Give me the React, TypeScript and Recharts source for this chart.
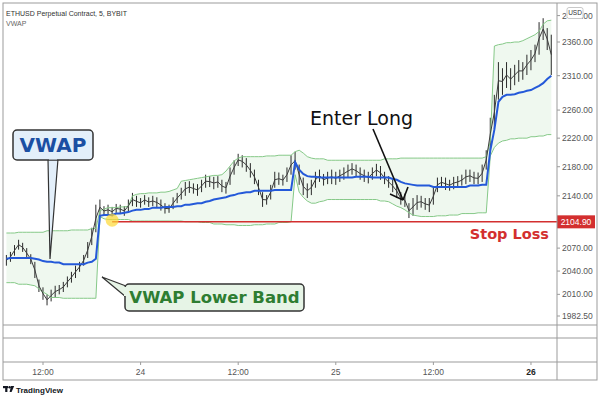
import React from "react";
import {
    ComposedChart,
    Bar,
    Line,
    Area,
    XAxis,
    YAxis,
    ReferenceLine,
    ReferenceDot,
} from "recharts";

// 30 minute buckets, hours counted from the 23rd 00:00
const startHour = 7.5;
const stepHours = 0.5;

const priceHigh = [
    // session 23
    2061, 2065, 2074, 2081, 2077, 2070, 2062, 2052, 2029, 2019, 2010, 2016, 2021, 2022, 2026, 2033, 2039, 2047, 2052, 2061, 2078, 2097, 2128,
    // session 24
    2135, 2126, 2128, 2125, 2129, 2128, 2126, 2135, 2144, 2140, 2137, 2141, 2138, 2140, 2138, 2135, 2130, 2128, 2138, 2144, 2151, 2159, 2160, 2157,
    2156, 2162, 2169, 2167, 2166, 2167, 2162, 2159, 2179, 2189, 2198, 2196, 2192, 2185, 2176, 2162, 2145, 2141, 2155, 2173, 2172, 2169, 2179, 2196,
    // session 25
    2201, 2183, 2165, 2157, 2162, 2173, 2176, 2170, 2173, 2176, 2173, 2176, 2179, 2183, 2185, 2183, 2179, 2176, 2173, 2179, 2184, 2181, 2173, 2167,
    2162, 2156, 2145, 2143, 2130, 2137, 2141, 2140, 2137, 2137, 2151, 2165, 2166, 2165, 2162, 2166, 2167, 2169, 2176, 2176, 2173, 2172, 2183, 2203,
    // session 26
    2249, 2282, 2330, 2321, 2330, 2321, 2326, 2333, 2330, 2341, 2348, 2356, 2390, 2396, 2381, 2371,
];

const priceLow = [
    2047, 2052, 2060, 2068, 2065, 2057, 2049, 2031, 2013, 2003, 1996, 2001, 2006, 2010, 2013, 2019, 2025, 2031, 2039, 2047, 2057, 2074, 2091,
    2114, 2113, 2114, 2112, 2117, 2116, 2113, 2118, 2126, 2125, 2124, 2128, 2125, 2126, 2124, 2120, 2116, 2117, 2122, 2130, 2135, 2140, 2144, 2143,
    2140, 2145, 2151, 2152, 2149, 2151, 2145, 2143, 2155, 2169, 2181, 2179, 2173, 2165, 2156, 2141, 2125, 2128, 2135, 2151, 2155, 2154, 2159, 2169,
    2176, 2155, 2141, 2137, 2141, 2151, 2159, 2154, 2156, 2156, 2155, 2159, 2162, 2165, 2169, 2166, 2162, 2159, 2157, 2162, 2167, 2162, 2156, 2151,
    2145, 2137, 2128, 2125, 2110, 2113, 2121, 2124, 2121, 2118, 2128, 2145, 2151, 2148, 2147, 2149, 2151, 2154, 2156, 2159, 2156, 2156, 2159, 2176,
    2203, 2232, 2275, 2282, 2292, 2289, 2296, 2301, 2304, 2311, 2318, 2330, 2341, 2363, 2348, 2311,
];

const vwap = [
    2056, 2057, 2057, 2057, 2057, 2057, 2057, 2056, 2055, 2053, 2052, 2052, 2051, 2051, 2049, 2049, 2049, 2049, 2049, 2049, 2051, 2052, 2056,
    2113, 2114, 2114, 2114, 2116, 2116, 2117, 2118, 2120, 2121, 2121, 2122, 2122, 2124, 2124, 2124, 2125, 2125, 2125, 2126, 2126, 2128, 2128, 2129,
    2130, 2130, 2132, 2133, 2135, 2136, 2137, 2138, 2140, 2141, 2143, 2144, 2145, 2145, 2147, 2147, 2147, 2147, 2147, 2148, 2148, 2148, 2148, 2148,
    2186, 2176, 2170, 2167, 2166, 2166, 2165, 2165, 2165, 2165, 2165, 2165, 2165, 2165, 2165, 2166, 2166, 2166, 2166, 2165, 2165, 2165, 2165, 2165,
    2163, 2162, 2159, 2157, 2156, 2155, 2154, 2154, 2154, 2154, 2152, 2152, 2152, 2152, 2152, 2152, 2152, 2152, 2152, 2154, 2154, 2154, 2155, 2155,
    2203, 2232, 2272, 2279, 2282, 2282, 2283, 2285, 2286, 2288, 2289, 2292, 2295, 2299, 2305, 2310,
];

const upperBand = [
    2090, 2090, 2090, 2091, 2091, 2091, 2091, 2091, 2091, 2091, 2093, 2093, 2093, 2093, 2093, 2093, 2094, 2094, 2094, 2094, 2094, 2096, 2096,
    2120, 2122, 2124, 2124, 2124, 2125, 2125, 2126, 2140, 2142, 2143, 2143, 2144, 2144, 2144, 2145, 2145, 2146, 2148, 2150, 2160, 2161, 2162, 2163,
    2164, 2165, 2166, 2167, 2168, 2168, 2169, 2174, 2181, 2188, 2192, 2194, 2194, 2194, 2194, 2194, 2194, 2195, 2195, 2195, 2196, 2196, 2196, 2196,
    2201, 2203, 2199, 2194, 2192, 2191, 2191, 2191, 2189, 2189, 2189, 2189, 2189, 2189, 2189, 2189, 2189, 2189, 2189, 2189, 2189, 2189, 2191, 2191,
    2191, 2191, 2192, 2192, 2192, 2192, 2192, 2192, 2192, 2192, 2192, 2192, 2192, 2192, 2192, 2192, 2192, 2192, 2192, 2192, 2192, 2192, 2192, 2194,
    2215, 2354, 2356, 2357, 2359, 2359, 2360, 2360, 2362, 2365, 2368, 2371, 2376, 2387, 2392, 2393,
];

const lowerBand = [
    2025, 2025, 2025, 2023, 2023, 2023, 2022, 2021, 2017, 2013, 2010, 2006, 2006, 2006, 2005, 2005, 2005, 2005, 2005, 2005, 2005, 2005, 2005,
    2112, 2109, 2108, 2108, 2108, 2108, 2108, 2108, 2106, 2106, 2106, 2106, 2106, 2106, 2106, 2106, 2106, 2106, 2106, 2106, 2106, 2105, 2105, 2105,
    2105, 2104, 2104, 2104, 2102, 2102, 2102, 2101, 2101, 2101, 2100, 2100, 2100, 2100, 2101, 2101, 2101, 2102, 2102, 2102, 2104, 2104, 2104, 2105,
    2169, 2145, 2138, 2133, 2130, 2130, 2132, 2133, 2135, 2135, 2135, 2135, 2135, 2135, 2135, 2135, 2135, 2135, 2135, 2135, 2135, 2133, 2133, 2132,
    2129, 2126, 2124, 2121, 2117, 2114, 2113, 2112, 2112, 2112, 2112, 2113, 2113, 2113, 2114, 2114, 2114, 2116, 2116, 2116, 2116, 2117, 2117, 2117,
    2195, 2207, 2213, 2216, 2217, 2219, 2219, 2220, 2220, 2220, 2222, 2222, 2223, 2223, 2225, 2225,
];

const priceTicks = [2400, 2360, 2310, 2260, 2220, 2180, 2140, 2070, 2040, 2010, 1982.5];
const timeTicks = [12, 24, 36, 48, 60, 72];
const timeLabels = ["12:00", "24", "12:00", "25", "12:00", "26"];
const stopLoss = 2104.9;
const entryHour = 20.5;
const entryPrice = 2107;

const timeDomain = [7.08, 75.2];
const priceDomain = [1971.2, 2419.3];

const rows = priceHigh.map((h, i) => ({
    t: startHour + i * stepHours,
    high: h,
    low: priceLow[i],
    mid: (h + priceLow[i]) / 2,
    vwap: vwap[i],
    upper: upperBand[i],
    lower: lowerBand[i],
}));

const axisFont = "'Liberation Sans', Arial, sans-serif";
const noteFont = "'DejaVu Sans', Verdana, sans-serif";

// thin wick from high to low
const Wick = (p: any) => {
    const { x, y, width, height } = p;
    if (x == null || y == null) return null;
    const cx = x + width / 2;
    return <line x1={cx} x2={cx} y1={y} y2={y + Math.max(height, 1)} stroke="#2a2a2a" strokeWidth={1} />;
};

const StopLabel = (props: any) => {
    const vb = props.viewBox;
    if (!vb) return null;
    const right = vb.x + vb.width;
    const y = vb.y;
    return (
        <g>
            <rect x={right} y={y - 6.5} width={38} height={13} fill="#d32f2f" />
            <text x={right + 19} y={y + 3} textAnchor="middle" fill="#fff" fontSize={8.5} fontFamily={axisFont}>
                {stopLoss.toFixed(2)}
            </text>
            <text x={right - 8} y={y + 17} textAnchor="end" fill="#d32f2f" fontSize={14.5} fontWeight="bold" fontFamily={noteFont}>
                Stop Loss
            </text>
        </g>
    );
};

const TimeTick = (props: any) => {
    const { x, y, payload } = props;
    const idx = timeTicks.indexOf(payload.value);
    const label = timeLabels[idx] ?? "";
    const last = idx === timeTicks.length - 1;
    return (
        <text x={x} y={y} dy="0.71em" textAnchor="middle" fontSize={8.5} fontFamily={axisFont}
            fill={last ? "#222" : "#555"} fontWeight={last ? "bold" : "normal"}>
            {label}
        </text>
    );
};

export default function App() {
    const line = "#9b9b9b";
    return (
        <div style={{ position: "absolute", left: 0, top: 0, width: 600, height: 397, background: "#fff", fontFamily: axisFont }}>
            <div style={{ position: "absolute", left: 3, top: 3 }}>
                <ComposedChart width={594} height={322} data={rows} margin={{ top: 0, right: 0, bottom: 0, left: 0 }}>
                    <XAxis dataKey="t" type="number" domain={timeDomain} allowDataOverflow hide />
                    <YAxis
                        orientation="right"
                        scale="log"
                        domain={priceDomain}
                        allowDataOverflow
                        ticks={priceTicks}
                        interval={0}
                        width={40}
                        tickSize={3}
                        axisLine={false}
                        tickLine={{ stroke: line }}
                        tick={{ fontSize: 8.5, fill: "#555", fontFamily: axisFont }}
                        tickFormatter={(v: number) => v.toFixed(2)}
                    />
                    <Area
                        dataKey={(d: any) => [d.lower, d.upper]}
                        stroke="none"
                        fill="#4caf50"
                        fillOpacity={0.09}
                        isAnimationActive={false}
                    />
                    <Line dataKey="upper" stroke="#86c988" strokeWidth={1} dot={false} isAnimationActive={false} />
                    <Line dataKey="lower" stroke="#86c988" strokeWidth={1} dot={false} isAnimationActive={false} />
                    <Bar dataKey={(d: any) => [d.low, d.high]} barSize={2} shape={Wick} isAnimationActive={false} />
                    <Line dataKey="mid" stroke="#3c3c3c" strokeWidth={1} dot={false} isAnimationActive={false} />
                    <Line dataKey="vwap" stroke="#2459d9" strokeWidth={2} dot={false} isAnimationActive={false} />
                    <ReferenceLine
                        segment={[{ x: entryHour, y: stopLoss }, { x: timeDomain[1], y: stopLoss }]}
                        stroke="#d32f2f"
                        strokeWidth={1.5}
                        ifOverflow="visible"
                        label={<StopLabel />}
                    />
                    <ReferenceDot x={entryHour} y={entryPrice} r={6.5} fill="#fdd835" fillOpacity={0.7} stroke="none" />
                </ComposedChart>
            </div>

            <div style={{ position: "absolute", left: 3, top: 338 }}>
                <ComposedChart width={594} height={42} data={rows} margin={{ top: 0, right: 0, bottom: 0, left: 0 }}>
                    <XAxis
                        dataKey="t"
                        type="number"
                        domain={timeDomain}
                        allowDataOverflow
                        ticks={timeTicks}
                        interval={0}
                        height={18}
                        tickSize={3}
                        tickMargin={4}
                        axisLine={false}
                        tickLine={{ stroke: line }}
                        tick={<TimeTick />}
                    />
                    <YAxis
                        orientation="right"
                        width={40}
                        domain={[0, 1]}
                        ticks={[0]}
                        tickSize={3}
                        axisLine={false}
                        tickLine={{ stroke: line }}
                        tick={{ fontSize: 8.5, fill: "#555", fontFamily: axisFont }}
                        tickFormatter={() => "0.00"}
                    />
                </ComposedChart>
            </div>

            <svg width={600} height={397} style={{ position: "absolute", left: 0, top: 0, pointerEvents: "none" }}>
                {/* frame and pane separators */}
                <rect x={3} y={3} width={594} height={377} fill="none" stroke={line} />
                <line x1={557} x2={557} y1={3} y2={380} stroke={line} />
                <line x1={3} x2={597} y1={325} y2={325} stroke={line} />
                <line x1={3} x2={597} y1={338} y2={338} stroke={line} />
                <line x1={3} x2={597} y1={362} y2={362} stroke={line} />

                <text x={6} y={16} fontSize={7} fill="#333" fontFamily={axisFont}>ETHUSD Perpetual Contract, 5, BYBIT</text>
                <text x={6} y={25.5} fontSize={7} fill="#666" fontFamily={axisFont}>VWAP</text>

                <rect x={567} y={7.5} width={16} height={11} rx={2} fill="#fff" stroke="#c8c8c8" />
                <text x={575} y={15.3} textAnchor="middle" fontSize={6.5} fill="#333" fontFamily={axisFont}>USD</text>

                {/* VWAP callout */}
                <path d="M48,159 L50,259 L58,159" fill="#e3effa" stroke="#333" strokeWidth={1.2} />
                <rect x={13} y={130} width={80} height={30} rx={4} fill="#e3effa" stroke="#333" strokeWidth={1.5} />
                <path d="M49,158.5 L57,158.5" stroke="#e3effa" strokeWidth={2} />
                <text x={53} y={152} textAnchor="middle" fontSize={20} fontWeight="bold" fill="#1b4fa3" fontFamily={noteFont}>VWAP</text>

                {/* Lower band callout */}
                <path d="M126,286 L102,277 L126,297" fill="#e6f4e6" stroke="#333" strokeWidth={1.2} />
                <rect x={125} y={284} width={179} height={27} rx={4} fill="#e6f4e6" stroke="#333" strokeWidth={1.5} />
                <path d="M125,287 L125,296" stroke="#e6f4e6" strokeWidth={2} />
                <text x={214.5} y={303} textAnchor="middle" fontSize={16.5} fontWeight="bold" fill="#2e7d32" fontFamily={noteFont}>VWAP Lower Band</text>

                {/* Enter long note */}
                <text x={310} y={125} fontSize={19} fill="#111" fontFamily={noteFont}>Enter Long</text>
                <line x1={373} y1={129} x2={403} y2={200} stroke="#111" strokeWidth={1.6} />
                <line x1={390} y1={194} x2={403} y2={200} stroke="#111" strokeWidth={1.6} />
                <line x1={408} y1={187} x2={403} y2={200} stroke="#111" strokeWidth={1.6} />

                {/* TradingView mark */}
                <rect x={3} y={386} width={5} height={2.2} fill="#131722" />
                <rect x={5.2} y={386} width={2.2} height={6} fill="#131722" />
                <circle cx={9.6} cy={387.2} r={1.2} fill="#131722" />
                <path d="M11,386 L14.2,386 L11.6,392 L9.6,392 Z" fill="#131722" />
                <text x={16} y={392.5} fontSize={8} fontWeight="bold" fill="#131722" fontFamily={axisFont}>TradingView</text>
            </svg>
        </div>
    );
}
